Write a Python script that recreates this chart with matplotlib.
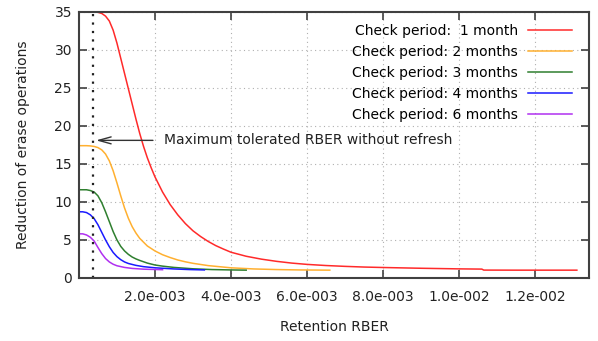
import numpy as np
import matplotlib
matplotlib.use('Agg')
import matplotlib.pyplot as plt

# values
rber_1m = [0, 0.0002, 0.0004, 0.0005, 0.0006, 0.0007, 0.0008, 0.0009, 0.0010, 0.0011,
           0.0012, 0.0013, 0.0014, 0.0015, 0.0016, 0.0017, 0.0018, 0.0019, 0.0020,
           0.0022, 0.0024, 0.0026, 0.0028, 0.0030, 0.0032, 0.0034, 0.0036, 0.0038,
           0.0040, 0.0044, 0.0048, 0.0052, 0.0056, 0.0060, 0.0065, 0.0070, 0.0075,
           0.0080, 0.0090, 0.0100, 0.0106, 0.01065, 0.0115, 0.0131]
red_1m = [35.0, 35.0, 35.0, 34.95, 34.8, 34.45, 33.8, 32.6, 30.9, 28.9,
          26.9, 24.9, 22.9, 20.9, 19.0, 17.3, 15.8, 14.5, 13.3,
          11.3, 9.65, 8.3, 7.15, 6.2, 5.45, 4.8, 4.25, 3.8,
          3.38, 2.85, 2.47, 2.18, 1.95, 1.78, 1.63, 1.52, 1.43,
          1.37, 1.27, 1.19, 1.16, 1.03, 1.02, 1.02]

rber_2m = [0, 0.0002, 0.0003, 0.0004, 0.0005, 0.0006, 0.0007, 0.0008, 0.0009, 0.0010,
           0.0011, 0.0012, 0.0013, 0.0014, 0.0015, 0.0016, 0.0018, 0.0020, 0.0022,
           0.0024, 0.0026, 0.0028, 0.0030, 0.0034, 0.0040, 0.0046, 0.0052, 0.0058, 0.0066]
red_2m = [17.4, 17.4, 17.37, 17.3, 17.15, 16.85, 16.3, 15.4, 14.1, 12.5,
          10.8, 9.2, 7.85, 6.75, 5.9, 5.2, 4.2, 3.55, 3.05,
          2.68, 2.36, 2.12, 1.92, 1.62, 1.33, 1.18, 1.1, 1.05, 1.02]

rber_3m = [0, 0.0002, 0.0003, 0.0004, 0.0005, 0.0006, 0.0007, 0.0008, 0.0009, 0.0010,
           0.0011, 0.0012, 0.0013, 0.0014, 0.0015, 0.0016, 0.0018, 0.0020, 0.0022,
           0.0025, 0.0030, 0.0035, 0.0040, 0.0044]
red_3m = [11.6, 11.6, 11.5, 11.3, 10.8, 9.9, 8.7, 7.4, 6.1, 5.0,
          4.15, 3.55, 3.1, 2.75, 2.5, 2.3, 1.95, 1.7, 1.55,
          1.38, 1.2, 1.1, 1.05, 1.02]

rber_4m = [0, 0.0001, 0.0002, 0.0003, 0.0004, 0.0005, 0.0006, 0.0007, 0.0008, 0.0009,
           0.0010, 0.0011, 0.0012, 0.0013, 0.0015, 0.0017, 0.0020, 0.0025, 0.0029, 0.0033]
red_4m = [8.7, 8.7, 8.6, 8.3, 7.8, 7.0, 6.0, 5.0, 4.1, 3.35,
          2.8, 2.4, 2.1, 1.9, 1.65, 1.48, 1.33, 1.18, 1.1, 1.05]

rber_6m = [0, 0.0001, 0.0002, 0.0003, 0.0004, 0.0005, 0.0006, 0.0007, 0.0008, 0.0009,
           0.0010, 0.0012, 0.0014, 0.0017, 0.0022]
red_6m = [5.8, 5.8, 5.65, 5.35, 4.85, 4.0, 3.2, 2.55, 2.1, 1.8,
          1.6, 1.38, 1.25, 1.15, 1.08]

labels = ['Check period:  1 month', 'Check period: 2 months', 'Check period: 3 months',
          'Check period: 4 months', 'Check period: 6 months']
colors = ['#ff2a2a', '#ffb030', '#2f7f2f', '#1a1aff', '#b030f0']

xticks = [0.002, 0.004, 0.006, 0.008, 0.010, 0.012]
xticklabels = ['2.0e-003', '4.0e-003', '6.0e-003', '8.0e-003', '1.0e-002', '1.2e-002']
yticks = [0, 5, 10, 15, 20, 25, 30, 35]

refresh_rber = 0.00037
arrow_y = 18.1


def main():
    plt.rcParams['font.family'] = 'DejaVu Sans'
    plt.rcParams['font.size'] = 10

    fig = plt.figure(figsize=(5.98, 3.41), dpi=100)
    ax = fig.add_axes([0.132, 0.185, 0.853, 0.78])

    series = [(rber_1m, red_1m), (rber_2m, red_2m), (rber_3m, red_3m),
              (rber_4m, red_4m), (rber_6m, red_6m)]
    for (x, y), lab, col in zip(series, labels, colors):
        ax.plot(x, y, '-', color=col, lw=1.1, label=lab)

    # the "no refresh" limit and its annotation
    ax.axvline(refresh_rber, color='#202020', lw=1.6, ls=(0, (1, 2.8)))
    ax.annotate('Maximum tolerated RBER without refresh',
                xy=(refresh_rber + 0.00008, arrow_y), xytext=(0.00224, arrow_y),
                va='center', ha='left', color='#222222',
                arrowprops=dict(arrowstyle='->, head_length=0.9, head_width=0.25',
                                color='#333333', lw=1.0, shrinkA=6, shrinkB=0))

    ax.set_xlim(0, 0.01342)
    ax.set_ylim(0, 35)
    ax.set_xticks(xticks)
    ax.set_xticklabels(xticklabels)
    ax.set_yticks(yticks)

    ax.grid(True, color='#b0b0b0', lw=0.8, ls=(0, (1, 3)))
    for s in ax.spines.values():
        s.set_color('#404040')
        s.set_linewidth(1.5)
    ax.tick_params(axis='both', direction='in', top=True, right=True,
                   length=6, width=1.2, color='#404040', labelcolor='#222222')
    ax.tick_params(axis='x', pad=8.5)
    ax.tick_params(axis='y', pad=5)

    ax.set_xlabel('Retention RBER', color='#222222')
    ax.set_ylabel('Reduction of erase operations', color='#222222')
    ax.xaxis.set_label_coords(0.5, -0.16)
    ax.yaxis.set_label_coords(-0.096, 0.5)

    ax.legend(loc='upper right', bbox_to_anchor=(0.978, 0.975), borderaxespad=0,
              frameon=False, markerfirst=False, handlelength=3.2, handletextpad=0.7,
              labelspacing=0.5, fontsize=10)

    fig.savefig('out.png', dpi=100)
    plt.close()


if __name__ == '__main__':
    main()
